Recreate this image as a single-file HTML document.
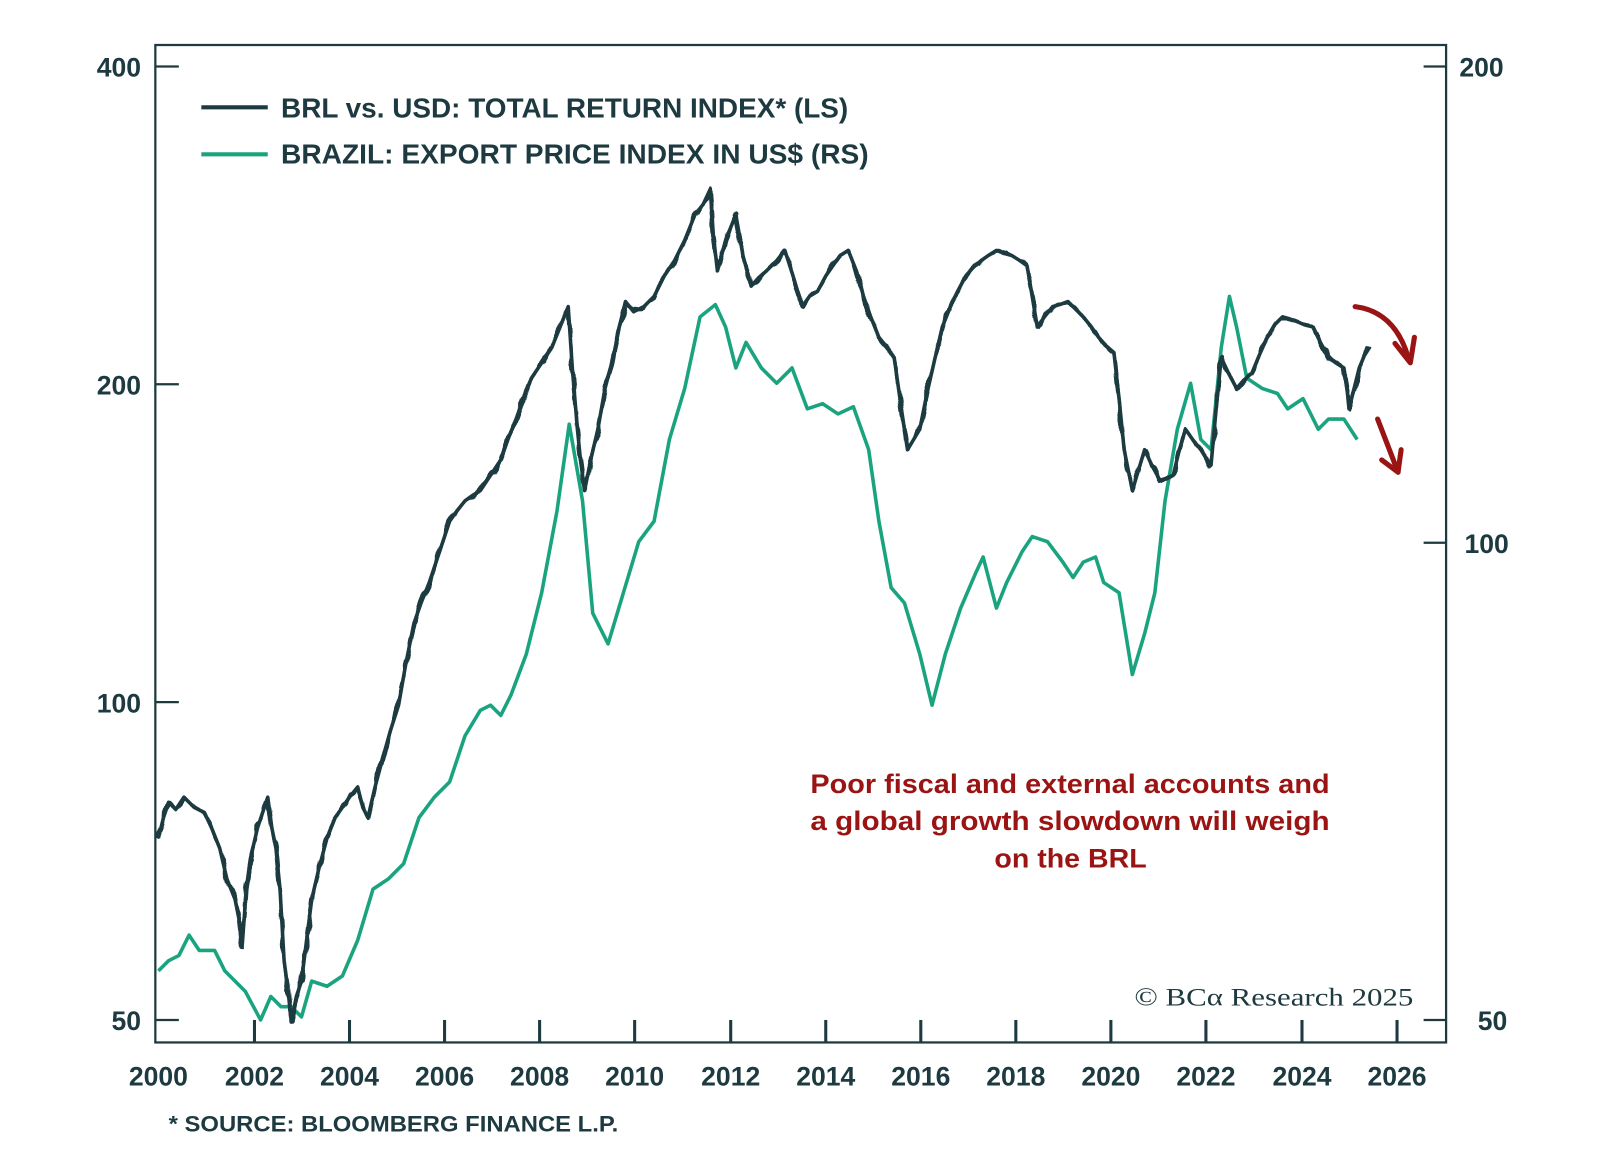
<!DOCTYPE html>
<html><head><meta charset="utf-8"><style>html,body{margin:0;padding:0;background:#fff}svg{display:block}</style></head>
<body>
<svg width="1600" height="1150" viewBox="0 0 1565.6 1125.2" xmlns="http://www.w3.org/2000/svg" font-family="Liberation Sans, sans-serif">
<defs>
<filter id="jag" x="-5%" y="-5%" width="110%" height="110%">
<feTurbulence type="fractalNoise" baseFrequency="0.12 0.06" numOctaves="1" seed="5" result="n"/>
<feDisplacementMap in="SourceGraphic" in2="n" scale="8" xChannelSelector="R" yChannelSelector="G"/>
</filter>
<polyline id="brl" fill="none" stroke="#1d3a40" stroke-linejoin="round" points="155,820 160,800 165,785 172,792 180,780 190,790 200,795 207,810 215,830 222,860 230,880 234,900 237,925 241,870 245,840 252,810 262,780 266,810 270,830 274,870 278,940 282,970 285,1000 290,975 295,960 300,920 305,880 312,850 320,820 328,800 335,790 342,780 350,770 355,790 360,800 367,770 375,740 382,715 390,690 397,650 405,610 412,590 420,570 430,540 440,510 447,500 455,490 462,485 470,480 480,465 490,450 497,430 505,410 512,390 520,370 530,355 540,340 548,320 556,300 560,360 565,420 568,450 572,480 578,450 585,420 592,380 600,350 606,320 612,295 620,305 630,300 640,290 650,270 660,255 670,235 680,210 688,200 695,185 698,230 702,265 710,235 720,210 727,250 735,280 742,272 750,265 760,255 768,245 776,270 785,300 792,290 800,285 808,270 815,260 822,250 830,245 838,265 845,290 852,310 860,330 868,340 875,350 882,400 888,440 894,430 900,420 907,385 915,350 922,320 930,300 937,285 945,270 952,262 960,255 967,250 975,245 983,248 990,250 998,255 1005,260 1010,290 1015,320 1022,310 1030,300 1037,298 1045,295 1052,302 1060,310 1068,320 1075,330 1082,338 1090,345 1095,390 1100,440 1104,460 1108,480 1114,460 1120,440 1127,455 1135,470 1141,468 1148,465 1154,440 1160,420 1167,430 1175,440 1180,448 1185,455 1190,400 1195,350 1202,365 1210,380 1217,372 1225,365 1232,348 1240,330 1247,318 1255,310 1262,312 1270,315 1277,318 1285,320 1292,335 1300,350 1307,355 1315,360 1318,380 1320,400 1325,380 1330,360 1335,348 1340,340"/>
</defs>
<rect x="0" y="0" width="1565.6" height="1125.2" fill="#fff"/>
<g stroke="#1d3a40" stroke-width="2.2" fill="none">
<rect x="152" y="44" width="1263" height="976"/>
<line x1="152" y1="65" x2="175" y2="65"/><line x1="152" y1="376" x2="175" y2="376"/><line x1="152" y1="687" x2="175" y2="687"/><line x1="152" y1="998" x2="175" y2="998"/>
<line x1="1393" y1="65" x2="1415" y2="65"/><line x1="1393" y1="531" x2="1415" y2="531"/><line x1="1393" y1="998" x2="1415" y2="998"/>
</g>
<g stroke="#1d3a40" stroke-width="3">
<line x1="249" y1="998" x2="249" y2="1020"/><line x1="342" y1="998" x2="342" y2="1020"/><line x1="435" y1="998" x2="435" y2="1020"/><line x1="528" y1="998" x2="528" y2="1020"/><line x1="621" y1="998" x2="621" y2="1020"/><line x1="715" y1="998" x2="715" y2="1020"/><line x1="808" y1="998" x2="808" y2="1020"/><line x1="901" y1="998" x2="901" y2="1020"/><line x1="994" y1="998" x2="994" y2="1020"/><line x1="1087" y1="998" x2="1087" y2="1020"/><line x1="1180" y1="998" x2="1180" y2="1020"/><line x1="1274" y1="998" x2="1274" y2="1020"/><line x1="1367" y1="998" x2="1367" y2="1020"/>
</g>
<g fill="#1d3a40" font-size="26" font-weight="bold">
<text x="138" y="75" text-anchor="end">400</text><text x="138" y="386" text-anchor="end">200</text><text x="138" y="697" text-anchor="end">100</text><text x="138" y="1008" text-anchor="end">50</text>
<text x="1428" y="75">200</text><text x="1433" y="541">100</text><text x="1446" y="1008">50</text>
<g text-anchor="middle"><text x="155" y="1062">2000</text><text x="249" y="1062">2002</text><text x="342" y="1062">2004</text><text x="435" y="1062">2006</text><text x="528" y="1062">2008</text><text x="621" y="1062">2010</text><text x="715" y="1062">2012</text><text x="808" y="1062">2014</text><text x="901" y="1062">2016</text><text x="994" y="1062">2018</text><text x="1087" y="1062">2020</text><text x="1180" y="1062">2022</text><text x="1274" y="1062">2024</text><text x="1367" y="1062">2026</text></g>
<text x="165" y="1107" font-size="22" textLength="440" lengthAdjust="spacingAndGlyphs">* SOURCE: BLOOMBERG FINANCE L.P.</text>
<text x="275" y="115" font-size="27" textLength="555" lengthAdjust="spacingAndGlyphs">BRL vs. USD: TOTAL RETURN INDEX* (LS)</text>
<text x="275" y="160" font-size="27" textLength="575" lengthAdjust="spacingAndGlyphs">BRAZIL: EXPORT PRICE INDEX IN US$ (RS)</text>
</g>
<line x1="197" y1="105" x2="262" y2="105" stroke="#1d3a40" stroke-width="4"/>
<line x1="197" y1="151" x2="262" y2="151" stroke="#1aa37f" stroke-width="4"/>
<g fill="#9b1414" font-size="26" font-weight="bold">
<text x="793" y="776" textLength="508" lengthAdjust="spacingAndGlyphs">Poor fiscal and external accounts and</text>
<text x="793" y="812" textLength="508" lengthAdjust="spacingAndGlyphs">a global growth slowdown will weigh</text>
<text x="973" y="849" textLength="149" lengthAdjust="spacingAndGlyphs">on the BRL</text>
</g>
<text x="1110" y="984" font-family="Liberation Serif, serif" font-size="25" fill="#1d3a40" textLength="273" lengthAdjust="spacingAndGlyphs">© BCα Research 2025</text>
<polyline fill="none" stroke="#1aa37f" stroke-width="3.5" stroke-linejoin="round" points="155,950 165,940 175,935 185,915 195,930 210,930 220,950 240,970 255,998 265,975 275,985 285,985 295,995 305,960 320,965 335,955 350,920 365,870 380,860 395,845 410,800 425,780 440,765 455,720 470,695 480,690 490,700 500,680 515,640 530,580 545,500 557,415 570,490 580,600 595,630 610,580 625,530 640,510 655,430 670,380 685,310 700,298 710,320 720,360 730,335 745,360 760,375 775,360 790,400 805,395 820,405 835,398 850,440 860,510 872,575 885,590 900,640 912,690 925,640 940,595 955,560 962,545 975,595 985,570 1000,540 1010,525 1025,530 1040,550 1050,565 1060,550 1072,545 1080,570 1095,580 1108,660 1120,620 1130,580 1140,490 1152,420 1165,375 1175,430 1185,440 1195,340 1203,290 1210,320 1220,370 1235,380 1250,385 1260,400 1275,390 1290,420 1300,410 1315,410 1328,430"/>
<use href="#brl" stroke-width="3.5"/>
<use href="#brl" stroke-width="3.5" filter="url(#jag)"/>
<g fill="none" stroke="#9b1414" stroke-width="5" stroke-linecap="round" stroke-linejoin="round">
<path d="M1326,300 Q1365,305 1378,350"/>
<path d="M1365,336 L1380,355 L1384,330"/>
<path d="M1348,410 L1368,462"/>
<path d="M1352,450 L1368,462 L1371,440"/>
</g>
</svg>
</body></html>
